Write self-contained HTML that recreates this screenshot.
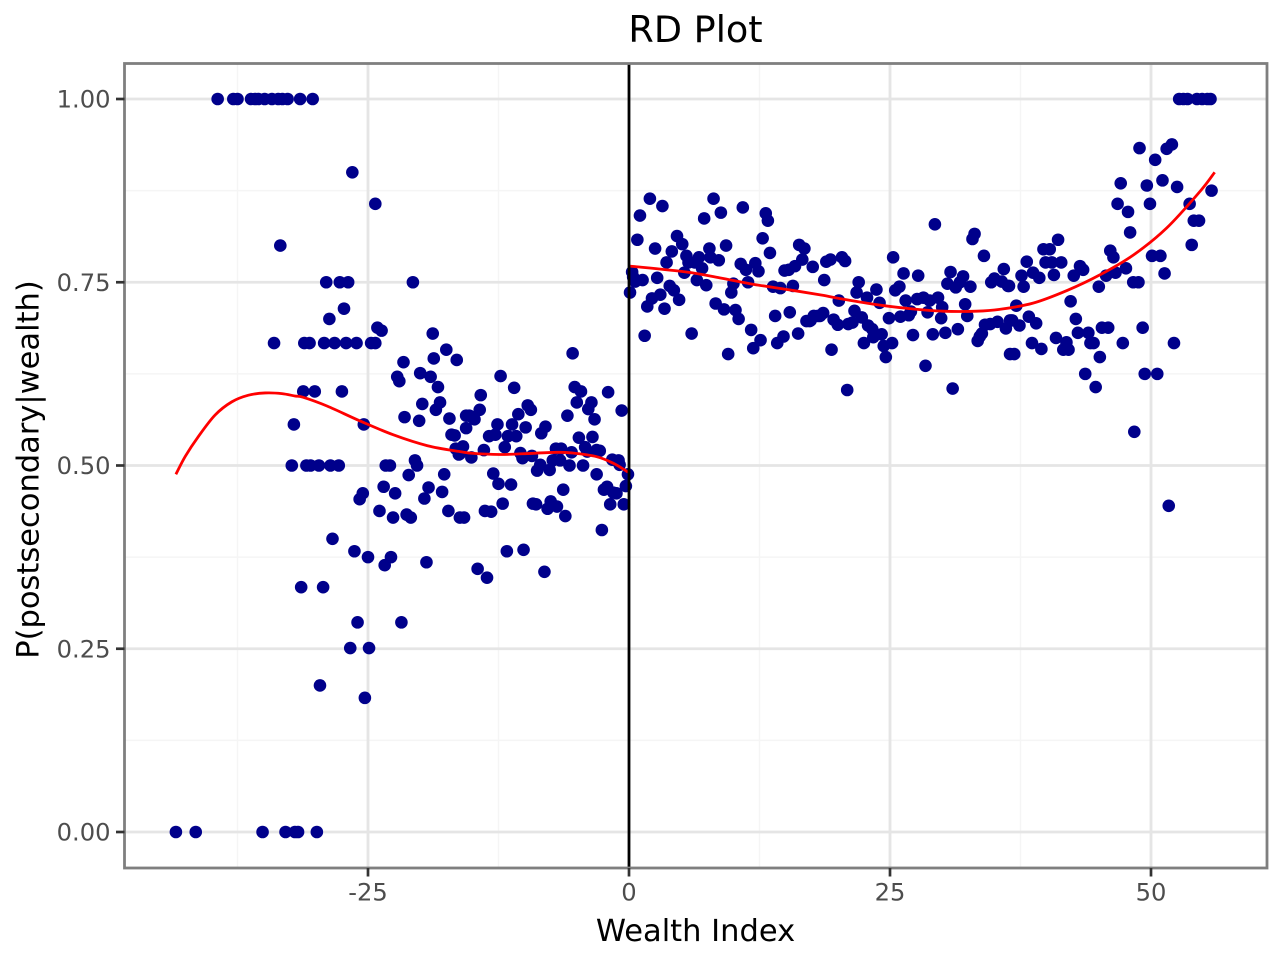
<!DOCTYPE html>
<html lang="en">
<head>
<meta charset="utf-8">
<title>RD Plot</title>
<style>
html,body{margin:0;padding:0;background:#fff;}
svg{display:block;font-family:"DejaVu Sans","Liberation Sans",sans-serif;}
</style>
</head>
<body>
<svg id="chart" xmlns="http://www.w3.org/2000/svg" width="1280" height="960" viewBox="0 0 1280 960">
  <rect x="0" y="0" width="1280" height="960" fill="#ffffff"/>
  <g id="grid"></g>
  <g id="points"></g>
  <g id="fits"></g>
  <g id="cutoff"></g>
  <rect x="124.5" y="63.5" width="1142.5" height="804.5" fill="none" stroke="#7f7f7f" stroke-width="2.8"/>
  <g id="ticks"></g>
  <text x="695.5" y="42" text-anchor="middle" font-size="36.6" fill="#000">RD Plot</text>
  <text x="695.5" y="941" text-anchor="middle" font-size="30.5" fill="#000">Wealth Index</text>
  <text x="0" y="0" transform="translate(38.5,469.5) rotate(-90)" text-anchor="middle" font-size="30.5" fill="#000">P(postsecondary|wealth)</text>
</svg>
<script>
const xTickValues = [-25, 0, 25, 50];
const xTickLabels = ["-25", "0", "25", "50"];
const xMinorValues = [-37.5, -12.5, 12.5, 37.5];
const yTickValues = [0, 0.25, 0.5, 0.75, 1];
const yTickLabels = ["0.00", "0.25", "0.50", "0.75", "1.00"];
const yMinorValues = [0.125, 0.375, 0.625, 0.875];
const cutoffValue = 0;

const fitLeftX = [-43.4,-42.5,-41.25,-39.65,-38.05,-36.45,-34.85,-33.25,-32,-31.2,-28.9,-25.8,-22.6,-19.3,-16.2,-14.9,-12.4,-10.2,-6.9,-5.4,-3.1,-1.5,-0.1];
const fitLeftY = [0.488,0.5125,0.5395,0.5688,0.5868,0.5959,0.599,0.5981,0.5948,0.593,0.581,0.561,0.542,0.527,0.519,0.5165,0.515,0.516,0.518,0.517,0.512,0.503,0.491];
const fitRightX = [0.1,5.5,8.7,12,15.2,18.4,20.5,23.7,26.9,30.1,33.3,35.5,38.7,42,45.1,48.3,51.5,54.7,56.1];
const fitRightY = [0.772,0.764,0.756,0.747,0.74,0.7326,0.727,0.7195,0.714,0.7105,0.7105,0.713,0.7215,0.739,0.76,0.787,0.824,0.874,0.9];

const pointsTopLeft = [[-39.4,1],[-37.9,1],[-37.5,1],[-36.2,1],[-35.8,1],[-35.5,1],[-34.9,1],[-34.2,1],[-33.6,1],[-33.2,1],[-32.7,1],[-31.5,1],[-30.3,1]];
const pointsZeroLeft = [[-43.4,0],[-41.5,0],[-35.1,0],[-32.9,0],[-32,0],[-31.7,0],[-29.9,0]];
const pointsBelowFar = [[-26.5,0.9],[-24.3,0.857],[-33.4,0.8],[-29,0.75],[-27.7,0.75],[-26.9,0.75],[-20.7,0.75],[-27.3,0.714],[-28.7,0.7],[-24.1,0.688],[-23.7,0.684],[-18.8,0.68],[-17.5,0.658],[-18.7,0.646],[-16.5,0.644],[-34,0.667],[-31.1,0.667],[-30.6,0.667],[-29.2,0.667],[-28.2,0.667],[-27.1,0.667],[-26.1,0.667],[-24.7,0.667],[-24.3,0.667],[-21.6,0.641],
[-22.2,0.621],[-22,0.615],[-20,0.626],[-19,0.621],[-18.3,0.607],[-31.2,0.601],[-30.1,0.601],[-27.5,0.601],[-19.8,0.584],[-18.1,0.586],[-18.5,0.576],[-21.5,0.566],[-20.1,0.561],[-17.2,0.564],[-32.1,0.556],[-25.4,0.556],[-17,0.542],[-16.7,0.541],[-16.6,0.523],[-16.3,0.515],[-32.3,0.5],[-30.9,0.5],[-30.5,0.5],[-29.7,0.5],[-28.6,0.5],[-27.8,0.5],[-23.3,0.5],[-22.9,0.5],[-20.5,0.507],[-20.3,0.5],[-21.1,0.487],[-17.7,0.488],[-23.5,0.471],[-22.4,0.462],[-19.2,0.47],[-17.9,0.464],[-19.6,0.455],[-25.5,0.462],[-25.8,0.454],[-23.9,0.438],[-22.6,0.429],[-21.3,0.433],[-20.9,0.429],[-17.3,0.438],[-16.2,0.429],[-28.4,0.4],
[-19.4,0.368],[-26.3,0.383],[-25,0.375],[-23.4,0.364],[-22.8,0.375],[-31.4,0.334],[-29.3,0.334],[-21.8,0.286],[-26,0.286],[-26.7,0.251],[-24.9,0.251],[-29.6,0.2],[-25.3,0.183]];
const pointsBelowNear = [[-5.4,0.653],[-12.3,0.622],[-11,0.606],[-5.2,0.607],[-4.6,0.601],[-2,0.6],[-14.2,0.596],[-5,0.586],[-3.6,0.586],[-3.9,0.577],[-9.7,0.582],[-9.4,0.576],[-14.3,0.576],[-0.7,0.575],[-10.6,0.57],[-5.9,0.568],[-3.3,0.563],[-15.3,0.568],[-15.6,0.568],[-14.8,0.563],[-15,0.566],[-15.6,0.551],[-12.6,0.556],[-11.2,0.556],[-9.9,0.552],[-8,0.553],[-8.4,0.544],[-13.4,0.54],[-12.8,0.542],[-11.6,0.54],[-10.8,0.54],[-4.8,0.538],[-3.5,0.539],[-15.9,0.526],[-16.2,0.516],[-15.1,0.511],[-13.9,0.521],[-11.9,0.525],[-10.4,0.517],[-10.2,0.51],[-9.3,0.513],[-7,0.523],[-6.5,0.523],[-5.5,0.518],[-4.2,0.525],[-2.8,0.52],[-3.1,0.521],[-4,0.519],[-7.3,0.507],[-6.6,0.507],[-8.5,0.501],[-8.8,0.493],[-7.6,0.494],[-5.7,0.5],[-4.4,0.5],[-1.6,0.508],[-1,0.507],[-0.9,0.501],[-0.1,0.488],[-3.1,0.488],[-13,0.489],[-12.5,0.475],[-11.3,0.474],[-6.3,0.467],[-0.3,0.472],[-2.1,0.471],[-2.4,0.467],[-1.5,0.463],[-1.2,0.462],[-1.8,0.447],[-0.5,0.447],[-9.2,0.448],[-8.9,0.447],[-7.5,0.451],[-7.8,0.441],[-6.9,0.444],[-6.1,0.431],[-2.6,0.412],[-12.1,0.448],[-13.8,0.438],[-13.2,0.437],[-15.8,0.429],[-11.7,0.383],[-10.1,0.385],[-8.1,0.355],[-14.5,0.359],[-13.6,0.347]];
const pointsAboveNear = [[2,0.864],[3.2,0.854],[1.05,0.841],[8.1,0.864],[8.8,0.845],[7.2,0.837],[10.9,0.852],[13.1,0.844],[13.3,0.834],[0.8,0.808],[4.6,0.813],[5.1,0.802],[12.8,0.81],[2.5,0.796],[4.1,0.792],[7.7,0.796],[9.3,0.8],[13.5,0.79],[16.3,0.801],[16.8,0.796],[3.6,0.777],[5.5,0.786],[6.7,0.784],[7.8,0.784],[8.6,0.78],[5.7,0.777],[6.3,0.777],[7,0.769],[5.3,0.763],[10.7,0.775],[12.1,0.776],[11.2,0.767],[12.4,0.765],[16.6,0.781],[15.9,0.772],[17.6,0.771],[14.9,0.766],[15.3,0.767],[0.3,0.764],[0.4,0.757],[0.6,0.751],[1.3,0.753],[2.7,0.756],[6.5,0.753],[7.4,0.746],[10,0.748],[11.4,0.75],[9.8,0.736],[3.9,0.745],[4.3,0.739],[4.8,0.726],[0.1,0.736],[3,0.733],[2.2,0.728],[1.75,0.717],[3.4,0.714],[13.8,0.744],[14.5,0.742],[15.7,0.745],[8.3,0.721],[9.1,0.713],[10.2,0.712],[10.5,0.7],[14,0.704],[15.4,0.709],[17.7,0.704],[17,0.697],[17.3,0.697],[18.3,0.704],[1.5,0.677],[6,0.68],[11.7,0.685],[12.6,0.671],[11.9,0.66],[14.8,0.676],[14.2,0.667],[16.2,0.68],[9.5,0.652]];
const pointsAboveMid = [[29.3,0.829],[33.1,0.816],[32.9,0.809],[34,0.786],[18.9,0.778],[19.3,0.781],[20.4,0.784],[20.7,0.779],[25.3,0.784],[26.3,0.762],[27.7,0.759],[18.7,0.753],[22,0.75],[30.8,0.764],[32,0.758],[35.9,0.768],[30.5,0.748],[31.3,0.743],[31.7,0.75],[32.7,0.744],[34.7,0.75],[35,0.755],[35.7,0.751],[36.3,0.745],[21.8,0.736],[22.8,0.729],[23.7,0.74],[24,0.722],[25.5,0.739],[25.9,0.744],[20.1,0.725],[26.5,0.725],[27.6,0.727],[28.2,0.729],[28.8,0.725],[29.6,0.729],[30,0.716],[32.2,0.72],[21.6,0.711],[22.3,0.702],[18.6,0.708],[18.1,0.704],[17.4,0.698],[19.6,0.699],[20,0.692],[21,0.693],[21.4,0.695],[24.9,0.701],[26,0.703],[26.8,0.705],[27,0.71],[28.6,0.709],[29.9,0.701],[32.4,0.704],[22.9,0.691],[23.3,0.686],[24.2,0.679],[23.4,0.675],[22.5,0.667],[27.2,0.678],[29.1,0.679],[30.3,0.681],[31.5,0.686],[25.2,0.667],[24.4,0.663],[24.6,0.648],[19.4,0.658],[28.4,0.636],[20.9,0.603],[31,0.605],[35.3,0.696],[34.6,0.693],[34.1,0.692],[33.8,0.68],[33.6,0.676],[33.4,0.67],[36.1,0.687],[36.5,0.698],[36.5,0.652]];
const pointsAboveFar = [[41.1,0.808],[53.9,0.801],[39.7,0.795],[40.3,0.795],[46.1,0.793],[46.4,0.784],[50.1,0.786],[50.9,0.786],[38.1,0.778],[39.9,0.777],[40.5,0.777],[41.4,0.777],[38.7,0.763],[39.3,0.756],[37.6,0.759],[40.7,0.76],[43.2,0.772],[43.5,0.767],[42.6,0.759],[45.7,0.759],[46.6,0.763],[47.6,0.769],[51.3,0.762],[48.3,0.75],[48.8,0.75],[36.4,0.745],[37.8,0.744],[45,0.744],[42.3,0.724],[37.1,0.718],[38.3,0.703],[39,0.694],[36.7,0.698],[37.4,0.691],[42.8,0.7],[43,0.681],[44,0.681],[45.3,0.688],[45.9,0.688],[49.2,0.688],[38.6,0.667],[39.5,0.659],[36.9,0.652],[40.9,0.674],[41.9,0.668],[41.6,0.658],[42.1,0.658],[44.2,0.667],[44.5,0.667],[47.3,0.667],[52.2,0.667],[45.1,0.648],[43.7,0.625],[44.7,0.607],[49.4,0.625],[50.6,0.625],[48.4,0.546],[51.7,0.445],
[52.7,1],[53.1,1],[53.5,1],[54.4,1],[54.9,1],[55.4,1],[55.7,1],[48.9,0.933],[51.5,0.932],[52,0.938],[50.4,0.917],[47.1,0.885],[49.6,0.882],[51.1,0.889],[52.5,0.88],[46.8,0.857],[49.9,0.857],[53.7,0.857],[55.8,0.875],[47.8,0.846],[54.1,0.834],[54.6,0.834],[48,0.818]];

const NS = "http://www.w3.org/2000/svg";
const panel = {left: 124.5, right: 1267, top: 63.5, bottom: 868};
function xScale(v) { return 629 + v * 10.44; }
function yScale(v) { return 832 - v * 733; }
function make(tag, attrs, parent) {
  const el = document.createElementNS(NS, tag);
  for (const k in attrs) el.setAttribute(k, attrs[k]);
  parent.appendChild(el);
  return el;
}
const gridG = document.getElementById("grid");
const pointsG = document.getElementById("points");
const fitsG = document.getElementById("fits");
const cutoffG = document.getElementById("cutoff");
const ticksG = document.getElementById("ticks");

xMinorValues.forEach(function (v) {
  const el = make("line", {x1: xScale(v), x2: xScale(v), y1: panel.top, y2: panel.bottom, stroke: "#f5f5f5", "stroke-width": 1.4}, gridG);
  
  
});
yMinorValues.forEach(function (v) {
  const el = make("line", {x1: panel.left, x2: panel.right, y1: yScale(v), y2: yScale(v), stroke: "#f5f5f5", "stroke-width": 1.4}, gridG);
  
  
});
xTickValues.forEach(function (v) {
  const el = make("line", {x1: xScale(v), x2: xScale(v), y1: panel.top, y2: panel.bottom, stroke: "#e5e5e5", "stroke-width": 2.8}, gridG);
  
  
});
yTickValues.forEach(function (v) {
  const el = make("line", {x1: panel.left, x2: panel.right, y1: yScale(v), y2: yScale(v), stroke: "#e5e5e5", "stroke-width": 2.8}, gridG);
  
  
});

[pointsTopLeft, pointsZeroLeft, pointsBelowFar, pointsBelowNear, pointsAboveNear, pointsAboveMid, pointsAboveFar].forEach(function (group) {
  group.forEach(function (p) {
    const c = make("circle", {cx: xScale(p[0]).toFixed(2), cy: yScale(p[1]).toFixed(2), r: 6.3, fill: "#00008b"}, pointsG);
    
    
  });
});

function smoothPath(xs, ys) {
  const pts = xs.map(function (x, i) { return [xScale(x), yScale(ys[i])]; });
  let d = "M" + pts[0][0].toFixed(2) + " " + pts[0][1].toFixed(2);
  for (let i = 0; i < pts.length - 1; i++) {
    const p0 = pts[Math.max(i - 1, 0)], p1 = pts[i], p2 = pts[i + 1], p3 = pts[Math.min(i + 2, pts.length - 1)];
    const c1x = p1[0] + (p2[0] - p0[0]) / 6, c1y = p1[1] + (p2[1] - p0[1]) / 6;
    const c2x = p2[0] - (p3[0] - p1[0]) / 6, c2y = p2[1] - (p3[1] - p1[1]) / 6;
    d += "C" + c1x.toFixed(2) + " " + c1y.toFixed(2) + " " + c2x.toFixed(2) + " " + c2y.toFixed(2) + " " + p2[0].toFixed(2) + " " + p2[1].toFixed(2);
  }
  return d;
}
const fitLeft = make("path", {d: smoothPath(fitLeftX, fitLeftY), fill: "none", stroke: "#ff0000", "stroke-width": 2.8}, fitsG);


const fitRight = make("path", {d: smoothPath(fitRightX, fitRightY), fill: "none", stroke: "#ff0000", "stroke-width": 2.8}, fitsG);



const cutoffLine = make("line", {x1: xScale(cutoffValue), x2: xScale(cutoffValue), y1: panel.top, y2: panel.bottom, stroke: "#000000", "stroke-width": 2.8}, cutoffG);



xTickValues.forEach(function (v, i) {
  const t = make("line", {x1: xScale(v), x2: xScale(v), y1: panel.bottom, y2: panel.bottom + 8.5, stroke: "#333333", "stroke-width": 2.7}, ticksG);
  
  
  const l = make("text", {x: xScale(v), y: 900.5, "text-anchor": "middle", "font-size": 24.2, fill: "#4d4d4d"}, ticksG);
  l.textContent = xTickLabels[i];
  
  
});
yTickValues.forEach(function (v, i) {
  const t = make("line", {x1: panel.left - 8.5, x2: panel.left, y1: yScale(v), y2: yScale(v), stroke: "#333333", "stroke-width": 2.7}, ticksG);
  
  
  const l = make("text", {x: 110.5, y: yScale(v) + 8.7, "text-anchor": "end", "font-size": 24.2, fill: "#4d4d4d"}, ticksG);
  l.textContent = yTickLabels[i];
  
  
});
</script>
</body>
</html>
